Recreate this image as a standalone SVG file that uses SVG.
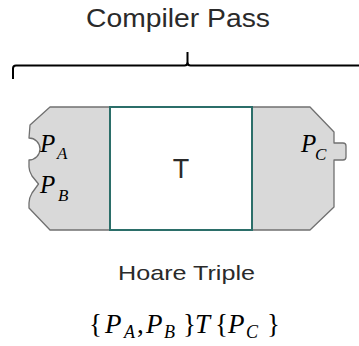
<svg xmlns="http://www.w3.org/2000/svg" width="359" height="346" viewBox="0 0 359 346">
<style>
.sans{font-family:"Liberation Sans",Arial,sans-serif;fill:#2a2a2a}
.serif{font-family:"Liberation Serif","DejaVu Serif","Times New Roman",serif;fill:#000}
.it{font-style:italic}
.port{fill:#d9d9d9;stroke:#707070;stroke-width:1.3;stroke-linejoin:round}
.box{fill:#fff;stroke:#2b6e69;stroke-width:2}
.brace{fill:none;stroke:#000;stroke-width:2;stroke-linejoin:round}
</style>
<rect width="359" height="346" fill="#fff"/>
<text class="sans" x="86" y="27" font-size="25" textLength="184" lengthAdjust="spacingAndGlyphs">Compiler Pass</text>
<g id="connectors">
<path class="brace" d="M13,79 L13,68.5 Q13,65.5 16,65.5 L184.5,65.5 Q187.5,65.5 187.5,62 L187.5,52 M187.5,62 Q187.5,65.5 190.5,65.5 L360,65.5"/>
</g>
<g id="pre">
<path class="port" d="M110,107 L50,107 L30,125 L29,138 A11,11 0 0 1 29,160 L29,167 Q29,171 32,176 L38.5,184 L32,193 Q29,198 29,203 L29,208 L50,230 L110,230 Z"/>
<text font-family="Liberation Serif, DejaVu Serif, serif" font-style="italic" x="40" y="152" font-size="25">P<tspan x="57" y="159" font-size="17">A</tspan></text>
<text font-family="Liberation Serif, DejaVu Serif, serif" font-style="italic" x="40" y="193" font-size="25">P<tspan x="58" y="201" font-size="17">B</tspan></text>
</g>
<g id="post">
<path class="port" d="M252,107 L310,107 L334,132 L334,143 L343,143 Q346,143 346,146 L346,157 Q346,160 343,160 L334,160 L334,207 L310,230 L252,230 Z"/>
<text font-family="Liberation Serif, DejaVu Serif, serif" font-style="italic" x="301" y="152" font-size="25">P<tspan x="315" y="160" font-size="17">C</tspan></text>
</g>
<g id="transform">
<rect class="box" x="110" y="107" width="142" height="123"/>
<text class="sans" x="181" y="178" font-size="27" text-anchor="middle">T</text>
</g>
<text class="sans" x="118" y="280" font-size="21" textLength="137" lengthAdjust="spacingAndGlyphs">Hoare Triple</text>
<text font-family="Liberation Serif, DejaVu Serif, serif" y="333" font-size="27"><tspan x="89">{</tspan><tspan font-style="italic" x="105">P</tspan><tspan font-style="italic" x="124" y="338" font-size="18">A</tspan><tspan x="137" y="333">,</tspan><tspan font-style="italic" x="146">P</tspan><tspan font-style="italic" x="164" y="338" font-size="18">B</tspan><tspan x="183" y="333">}</tspan><tspan font-style="italic" x="195">T</tspan><tspan x="215">{</tspan><tspan font-style="italic" x="228">P</tspan><tspan font-style="italic" x="246" y="338" font-size="18">C</tspan><tspan x="267" y="333">}</tspan></text>
</svg>
